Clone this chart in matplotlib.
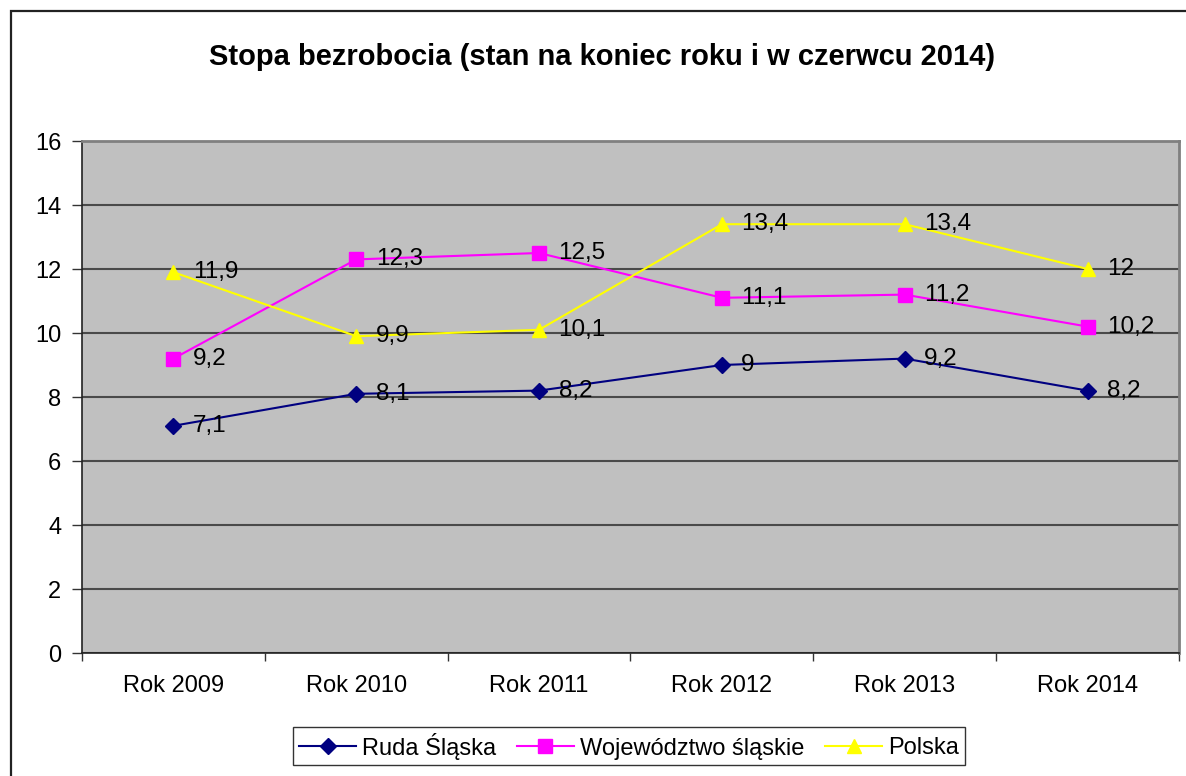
import matplotlib
matplotlib.use("Agg")
import matplotlib.pyplot as plt
from matplotlib.patches import Rectangle
from matplotlib.ticker import FixedLocator

categories = ["Rok 2009", "Rok 2010", "Rok 2011", "Rok 2012", "Rok 2013", "Rok 2014"]
ruda = [7.1, 8.1, 8.2, 9, 9.2, 8.2]
wojewodztwo = [9.2, 12.3, 12.5, 11.1, 11.2, 10.2]
polska = [11.9, 9.9, 10.1, 13.4, 13.4, 12]
series_names = ["Ruda Śląska", "Województwo śląskie", "Polska"]
title = "Stopa bezrobocia (stan na koniec roku i w czerwcu 2014)"
yticks = [0, 2, 4, 6, 8, 10, 12, 14, 16]

plt.rcParams['font.family'] = ['Liberation Sans', 'DejaVu Sans']

W, H = 1186, 776
fig = plt.figure(figsize=(W / 100, H / 100), dpi=100)
fig.patch.set_facecolor("white")

# outer chart border
fig.patches.append(Rectangle((10.5 / W, -0.05), 1.2, 1 - 11.5 / H + 0.05,
                             transform=fig.transFigure, fill=False,
                             edgecolor="#222222", linewidth=1.6, zorder=0))

ax = fig.add_axes([82 / W, 1 - 653 / H, (1179 - 82) / W, (653 - 141) / H])
ax.set_facecolor("#C0C0C0")

x = list(range(len(categories)))
styles = [
    (ruda, "#000080", "D", 8),
    (wojewodztwo, "#FF00FF", "s", 9.5),
    (polska, "#FFFF00", "^", 10.5),
]
for (vals, col, mk, ms), name in zip(styles, series_names):
    ax.plot(x, vals, color=col, marker=mk, markersize=ms, linewidth=1.5,
            markeredgecolor=col, label=name, zorder=3, clip_on=False)
    for xi, v in zip(x, vals):
        txt = (f"{v:g}").replace(".", ",")
        ax.annotate(txt, (xi, v), xytext=(14, 0), textcoords="offset points",
                    ha="left", va="center", fontsize=17.5, color="black", zorder=4)

ax.set_xlim(-0.5, len(categories) - 0.5)
ax.set_ylim(0, 16)
ax.set_yticks(yticks)
ax.set_yticklabels([str(t) for t in yticks], fontsize=17)
ax.yaxis.grid(True, color="#4a4a4a", linewidth=1.5, zorder=1)
ax.set_axisbelow(True)

ax.set_xticks(x)
ax.set_xticklabels(categories, fontsize=17)
ax.tick_params(axis="x", which="major", length=0, pad=16)
ax.xaxis.set_minor_locator(FixedLocator([i + 0.5 for i in range(-1, len(categories))]))
ax.tick_params(axis="x", which="minor", length=6, width=1, color="#333333", direction="out")
ax.tick_params(axis="y", length=7, width=1, color="#333333", pad=8)

for s in ["left", "bottom"]:
    ax.spines[s].set_color("#222222")
    ax.spines[s].set_linewidth(1.2)
for s in ["top", "right"]:
    ax.spines[s].set_color("#808080")
    ax.spines[s].set_linewidth(2)

fig.text(602 / W, 1 - 57 / H, title, ha="center", va="center",
         fontsize=21, fontweight="bold")

leg = fig.legend(loc="center", bbox_to_anchor=(629 / W, 1 - 746 / H), ncol=3,
                 fontsize=17, frameon=True, fancybox=False, handlelength=2.4,
                 handletextpad=0.25, columnspacing=0.9, borderpad=0.25)
leg.get_frame().set_edgecolor("black")
leg.get_frame().set_linewidth(1.0)

fig.savefig("out.png", dpi=100, facecolor="white")
